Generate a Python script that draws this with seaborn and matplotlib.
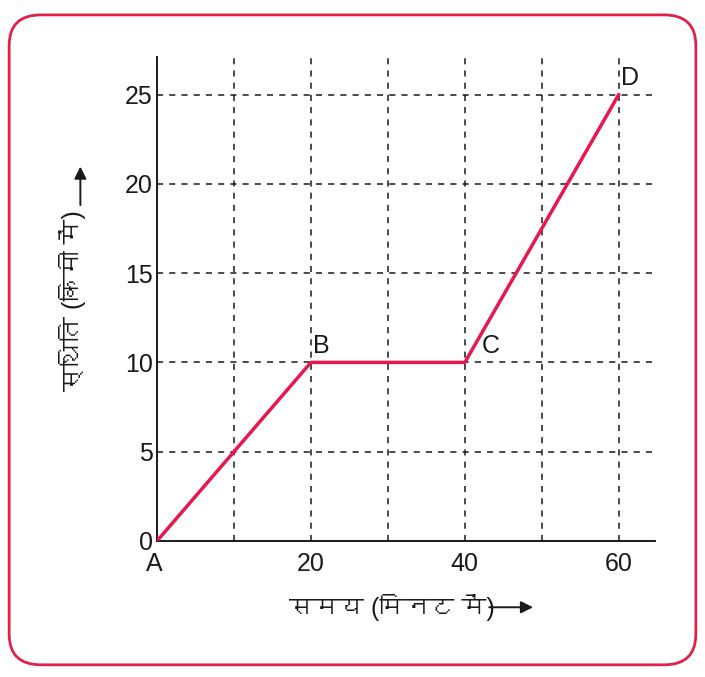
import matplotlib
matplotlib.use("Agg")
import matplotlib.pyplot as plt
import seaborn as sns
import pandas as pd
from matplotlib import font_manager as fm
from matplotlib.ft2font import FT2Font
from matplotlib.patches import FancyBboxPatch

# Data
times = [0, 20, 40, 60]
positions = [0, 10, 10, 25]
point_labels = ["A", "B", "C", "D"]
x_ticks = [20, 40, 60]
y_ticks = [0, 5, 10, 15, 20, 25]
x_grid = [10, 20, 30, 40, 50, 60]
y_grid = [5, 10, 15, 20, 25]
x_label = "समय (मिनट में)"
y_label = "स्थिति (किमी में)"


def find_font(ch):
    for f in fm.fontManager.ttflist:
        try:
            ft = FT2Font(f.fname)
            if ft.get_char_index(ord(ch)):
                return f.name
        except Exception:
            pass
    return None

sns.set_style("white")
dev = find_font("स")
fams = ["Liberation Sans", "DejaVu Sans"]
if dev:
    fams = ["Liberation Sans", dev, "DejaVu Sans"]
plt.rcParams["font.family"] = fams

ink = "#1a1a1a"
fig = plt.figure(figsize=(7.05, 6.77), dpi=100)
ax = fig.add_axes([0.2227, 0.2009, 0.929 - 0.2227, 0.9158 - 0.2009])

df = pd.DataFrame({"t": times, "s": positions})
sns.lineplot(data=df, x="t", y="s", ax=ax, color="#e8174d", lw=2.5, zorder=5)

for xv in x_grid:
    ax.axvline(xv, color=ink, lw=1.1, ls=(0, (4, 4)), zorder=1)
for yv in y_grid:
    ax.axhline(yv, color=ink, lw=1.1, ls=(0, (4, 4)), zorder=1)

ax.set_xlim(0, 64.7)
ax.set_ylim(0, 27.1)
ax.set_xticks(x_ticks)
ax.set_yticks(y_ticks)
ax.tick_params(axis="both", labelsize=18, length=6, width=1.2, color=ink,
               direction="inout", labelcolor=ink)
ax.tick_params(axis="x", pad=5)
ax.tick_params(axis="y", pad=0)
for s in ["top", "right"]:
    ax.spines[s].set_visible(False)
for s in ["left", "bottom"]:
    ax.spines[s].set_color(ink)
    ax.spines[s].set_linewidth(1.4)
ax.set_xlabel("")
ax.set_ylabel("")

offsets = {"A": (-1.5, -1.3, "left", "center"),
           "B": (0.3, 0.25, "left", "bottom"),
           "C": (2.2, 0.25, "left", "bottom"),
           "D": (0.3, 0.25, "left", "bottom")}
for t, s, lab in zip(times, positions, point_labels):
    dx, dy, ha, va = offsets[lab]
    ax.text(t + dx, s + dy, lab, fontsize=18, color=ink, ha=ha, va=va,
            clip_on=False)

fig.text(0.556, 0.103, x_label, fontsize=18, color=ink, ha="center", va="center")
ax.annotate("", xy=(0.76, 0.103), xytext=(0.69, 0.103), xycoords="figure fraction",
            textcoords="figure fraction", annotation_clip=False,
            arrowprops=dict(arrowstyle="-|>", color=ink, lw=1.4, mutation_scale=18))
fig.text(0.103, 0.556, y_label, fontsize=18, color=ink, ha="center", va="center",
         rotation=90)
ax.annotate("", xy=(0.114, 0.758), xytext=(0.114, 0.693), xycoords="figure fraction",
            textcoords="figure fraction", annotation_clip=False,
            arrowprops=dict(arrowstyle="-|>", color=ink, lw=1.4, mutation_scale=18))

border = FancyBboxPatch((0.013, 0.018), 0.974, 0.96, boxstyle="round,pad=0,rounding_size=0.045",
                        transform=fig.transFigure, fill=False, ec="#e0224a", lw=2.0)
fig.patches.append(border)

fig.savefig("out.png", dpi=100)
